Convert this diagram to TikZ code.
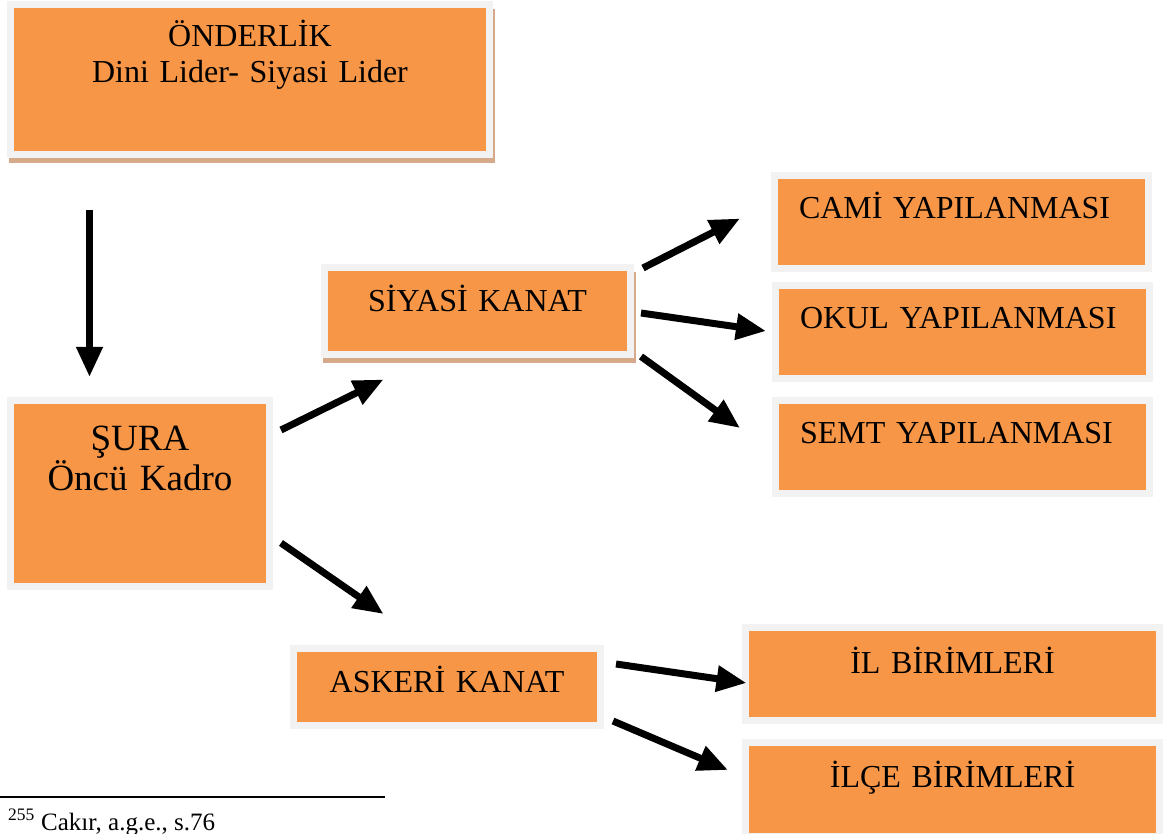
\documentclass[tikz,border=0pt]{standalone}
\usepackage{fontspec}
\setmainfont{Liberation Serif}
\usetikzlibrary{calc,arrows.meta,backgrounds}
\definecolor{kutu}{HTML}{F79646}
\definecolor{kenar}{HTML}{F2F2F2}
\definecolor{golge}{HTML}{D6A98A}
\tikzset{
	box/.style={draw=kenar, line width=7pt, fill=kutu, inner sep=0pt, outer sep=0pt, anchor=north west, font=\fontsize{32}{36}\selectfont},
	ortabox/.style={box, align=center},
	solbox/.style={box, align=left, inner xsep=24.5pt, text width=325pt, text height=43.5pt, text depth=49.5pt},
	ok/.style={line width=7pt, -{Triangle[width=25pt,length=30pt]}}
}

\begin{document}
\begin{tikzpicture}[x=1pt, y=-1pt]
			%%%%% START %%%%%
			\useasboundingbox (0, 0) rectangle (1165, 834);
			\clip (0, 0) rectangle (1165, 834);
			
			\node[ortabox, text width=479pt, text height=42.5pt, text depth=107.5pt] (onder) at (10.5, 4.5) {ÖNDERLİK\\Dini Lider- Siyasi Lider};
			\node[ortabox, text width=259pt, text height=49.5pt, text depth=136.5pt, font=\fontsize{37}{40}\selectfont] (sura) at (10.5, 400.5) {ŞURA\\Öncü Kadro};
			
			\node[ortabox, text width=306pt, text height=44.5pt, text depth=42.5pt] (siyasi) at (324.5, 267.5) {SİYASİ KANAT};
			\node[ortabox, text width=307pt, text height=43.5pt, text depth=33.5pt] (askeri) at (293.5, 648.5) {ASKERİ KANAT};
			
			\node[solbox] (cami) at (774.5, 175.5) {CAMİ YAPILANMASI};
			\node[solbox] (okul) at (775.5, 285.5) {OKUL YAPILANMASI};
			\node[solbox, text height=42.5pt, text depth=50.5pt] (semt) at (775.5, 400.5) {SEMT YAPILANMASI};
			
			\node[ortabox, text width=414pt, text height=45.5pt, text depth=47.5pt] (il) at (745.5, 627.5) {İL BİRİMLERİ};
			\node[ortabox, text width=414pt, text height=44.5pt, text depth=49.5pt] (ilce) at (745.5, 742.5) {İLÇE BİRİMLERİ};
			
			\draw[ok] ($(onder.south west)+(79, 55.5)$) -- ($(sura.north west)+(79, -23.5)$);
			\draw[ok] ($(sura.north east)+(11.5, 29.5)$) -- ($(siyasi.south west)+(59, 25)$);
			\draw[ok] ($(sura.south east)+(11.5, -43.5)$) -- ($(askeri.north west)+(90, -34.5)$);
			
			\draw[ok] ($(siyasi.north east)+(12.5, 0.5)$) -- ($(cami.west)+(-34.5, -3.5)$);
			\draw[ok] ($(siyasi.east)+(10.5, 2)$) -- ($(okul.west)+(-9.5, -1)$);
			\draw[ok] ($(siyasi.south east)+(10.5, 2)$) -- ($(semt.west)+(-35.5, -19)$);
			
			\draw[ok] ($(askeri.north east)+(15.5, 15.5)$) -- ($(il.west)+(1, 9)$);
			\draw[ok] ($(askeri.south east)+(12.5, -4.5)$) -- ($(ilce.west)+(-17.5, -19.5)$);
			
			\draw[line width=1.3pt] (0, 797) -- (385, 797);
			\node[anchor=base west, inner sep=0pt, font=\fontsize{25}{28}\selectfont] (dipnot) at (8, 830) {\textsuperscript{255} Cakır, a.g.e., s.76};
			
			\begin{scope}[on background layer]
				\fill[white] (0, 0) rectangle (1165, 834);
				\fill[golge] ($(onder.north west)+(-1.5, 5)$) rectangle ($(onder.south east)+(5.5, 8.5)$);
				\fill[golge] ($(siyasi.north west)+(-1.5, 5)$) rectangle ($(siyasi.south east)+(5.5, 8.5)$);
			\end{scope}
			
			%%%%% END %%%%%
\end{tikzpicture}
\end{document}
